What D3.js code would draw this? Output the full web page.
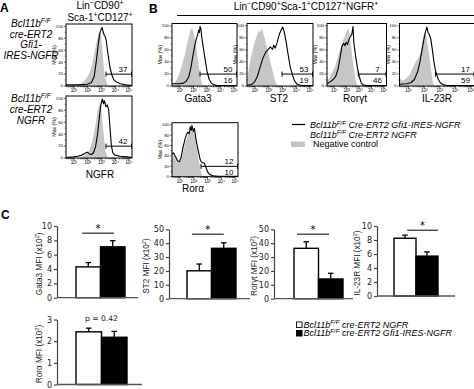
<!DOCTYPE html>
<html><head><meta charset="utf-8">
<script src="https://cdn.jsdelivr.net/npm/d3@7"></script>
<style>body{margin:0;background:#fff}svg{display:block}</style>
</head><body><svg id="c" width="474" height="389"></svg>
<script>
// ================= DATA =================
// Flow histograms: points are [log10 fluorescence, % of max]
const histLogTicks = [1, 2, 3, 4, 5];
const histPctTicks = [0, 20, 40, 60, 80, 100];
const histNames = ["", "NGFR", "Gata3", "ST2", "Rorγt", "IL-23R", "Rorα"];
const lineA1 = [[0.45,1],[1.5,1],[2.0,2],[2.3,5],[2.5,15],[2.65,40],[2.8,70],[2.92,88],[3.0,94],[3.08,97],[3.15,90],[3.22,85],[3.3,82],[3.38,75],[3.45,62],[3.55,45],[3.65,30],[3.78,18],[3.92,10],[4.1,6],[4.4,3],[4.8,1],[5.25,0]];
const fillA1 = [[0.45,0],[1.2,0],[1.5,3],[1.8,8],[2.1,18],[2.35,35],[2.55,58],[2.7,75],[2.82,88],[2.92,90],[3.0,82],[3.1,58],[3.2,30],[3.3,12],[3.45,2],[3.6,0],[5.25,0]];
const lineA2 = [[0.45,0],[1.0,1],[1.3,2],[1.6,4],[1.85,7],[2.0,9],[2.15,6],[2.3,5],[2.45,8],[2.6,18],[2.75,40],[2.9,72],[3.0,90],[3.1,98],[3.18,90],[3.25,95],[3.35,85],[3.45,88],[3.55,80],[3.65,50],[3.75,20],[3.85,8],[4.0,4],[4.4,2],[4.9,1],[5.25,0]];
const fillA2 = [[0.45,0],[1.5,0],[1.8,3],[2.1,10],[2.35,25],[2.55,48],[2.7,70],[2.82,85],[2.92,92],[3.0,85],[3.1,62],[3.2,35],[3.32,12],[3.45,2],[3.6,0],[5.25,0]];
const lineGata3 = [[0.45,3],[1.0,3],[1.3,4],[1.5,7],[1.7,15],[1.85,30],[2.0,50],[2.12,65],[2.25,78],[2.35,85],[2.42,92],[2.48,88],[2.52,98],[2.58,95],[2.65,80],[2.78,60],[2.92,40],[3.05,22],[3.2,10],[3.35,4],[3.55,1],[3.8,0],[5.25,0]];
const fillGata3 = [[0.45,0],[0.6,3],[0.8,10],[1.0,20],[1.2,35],[1.4,52],[1.55,68],[1.7,82],[1.82,92],[1.92,95],[2.05,88],[2.2,70],[2.35,45],[2.5,22],[2.62,6],[2.75,0],[5.25,0]];
const lineST2 = [[0.45,0],[0.8,2],[1.0,6],[1.2,15],[1.4,30],[1.6,45],[1.8,55],[2.0,60],[2.15,64],[2.3,60],[2.4,67],[2.5,62],[2.65,72],[2.8,85],[2.95,93],[3.05,97],[3.15,90],[3.3,72],[3.45,50],[3.6,30],[3.75,18],[3.9,8],[4.1,2],[4.4,0],[5.25,0]];
const fillST2 = [[0.45,10],[0.6,30],[0.75,48],[0.9,62],[1.05,75],[1.2,85],[1.32,92],[1.42,88],[1.52,96],[1.65,86],[1.8,72],[1.95,58],[2.1,45],[2.25,30],[2.4,15],[2.55,4],[2.7,0],[5.25,0]];
const lineRorgt = [[0.45,3],[0.7,6],[0.95,10],[1.15,15],[1.35,28],[1.5,45],[1.65,65],[1.8,70],[1.9,66],[2.0,72],[2.1,68],[2.2,75],[2.35,82],[2.45,85],[2.55,98],[2.62,70],[2.75,50],[2.9,30],[3.05,15],[3.2,5],[3.35,1],[3.6,0],[5.25,0]];
const fillRorgt = [[0.45,15],[0.6,10],[0.75,18],[0.95,25],[1.15,35],[1.35,50],[1.55,62],[1.75,75],[1.95,85],[2.1,92],[2.2,95],[2.3,80],[2.45,55],[2.6,30],[2.75,10],[2.9,0],[5.25,0]];
const lineIL23R = [[0.45,2],[0.9,3],[1.2,5],[1.4,10],[1.6,22],[1.75,38],[1.9,60],[2.0,75],[2.1,88],[2.2,97],[2.28,88],[2.35,85],[2.45,78],[2.55,60],[2.65,40],[2.75,25],[2.9,12],[3.05,5],[3.25,1],[3.5,0],[5.25,0]];
const fillIL23R = [[0.45,12],[0.7,8],[0.9,12],[1.1,18],[1.3,30],[1.5,40],[1.65,45],[1.8,55],[1.95,80],[2.05,88],[2.15,85],[2.3,60],[2.45,30],[2.55,10],[2.65,0],[5.25,0]];
const lineRora = [[0.45,42],[0.55,45],[0.7,38],[0.85,30],[1.0,28],[1.1,35],[1.25,55],[1.4,72],[1.5,80],[1.6,85],[1.7,82],[1.78,95],[1.85,88],[1.9,98],[2.0,86],[2.08,92],[2.2,70],[2.35,50],[2.5,32],[2.6,27],[2.8,25],[2.9,18],[3.05,8],[3.2,3],[3.45,1],[3.8,0],[5.25,0]];
const fillRora = [[0.45,38],[0.6,40],[0.75,32],[0.95,28],[1.1,30],[1.25,45],[1.4,62],[1.55,75],[1.7,82],[1.85,88],[1.95,90],[2.1,80],[2.25,55],[2.4,30],[2.55,10],[2.65,0],[5.25,0]];
const histLines = [lineA1, lineA2, lineGata3, lineST2, lineRorgt, lineIL23R, lineRora];
const histFills = [fillA1, fillA2, fillGata3, fillST2, fillRorgt, fillIL23R, fillRora];
const gateStartLog = [3.36, 3.36, 2.52, 3.0, 2.97, 2.75, 2.56];
const gateUpper = ["37", "42", "50", "53", "7", "17", "12"];
const gateLower = ["", "", "16", "19", "46", "59", "10"];

// Bar charts (MFI x10^2)
const barMarkers = ["Gata3", "ST2", "Rorγt", "IL-23R", "Rorα"];
const barGroups = ["NGFR", "Gfi1-IRES-NGFR"];
const meanNGFR = [4.3, 20.1, 36.3, 8.25, 2.43];
const semNGFR  = [0.6, 4.9, 4.7, 0.45, 0.17];
const meanGfi1 = [7.1, 36.3, 14.2, 5.7, 2.18];
const semGfi1  = [0.85, 4.0, 4.1, 0.6, 0.27];
const barYMax  = [10, 50, 50, 10, 3];
const barYStep = [2, 10, 10, 2, 1];
const sigLabels = ["*", "*", "*", "*", "p = 0.42"];

// ================= LAYOUT =================
const svg = d3.select("#c");
const SANS = "'Liberation Sans', Arial, 'DejaVu Sans', sans-serif";
const VER = "'DejaVu Sans', Verdana, sans-serif";
const logDomain = [0.45, 5.25];

function rich(sel, parts, fs) {
  parts.forEach(([t, sup], k) => {
    const ts = sel.append("tspan").text(t);
    if (sup) ts.attr("font-size", fs * 0.68).attr("dy", -fs * 0.38);
    else if (k > 0 && parts[k - 1][1]) ts.attr("dy", fs * 0.38);
  });
  return sel;
}
function txt(x, y, fs, opts = {}) {
  const t = svg.append("text").attr("x", x).attr("y", y)
    .attr("font-size", fs).attr("font-family", opts.font || SANS)
    .attr("text-anchor", opts.anchor || "start").attr("fill", "#000");
  if (opts.italic) t.attr("font-style", "italic");
  if (opts.bold) t.attr("font-weight", "bold");
  return t;
}

// Panel letters
txt(0, 12, 12, {bold: true}).text("A");
txt(149, 13, 12, {bold: true}).text("B");
txt(1, 219, 12, {bold: true}).text("C");

// Titles
rich(txt(100, 9, 10, {anchor: "middle"}), [["Lin"], ["−", 1], ["CD90"], ["+", 1]], 10);
rich(txt(100, 21, 10, {anchor: "middle"}), [["Sca-1"], ["+", 1], ["CD127"], ["+", 1]], 10);
rich(txt(306, 10, 10, {anchor: "middle"}), [["Lin"], ["−", 1], ["CD90"], ["+", 1], ["Sca-1"], ["+", 1], ["CD127"], ["+", 1], ["NGFR"], ["+", 1]], 10);
svg.append("line").attr("x1", 177).attr("x2", 474).attr("y1", 15.5).attr("y2", 15.5).attr("stroke", "#000").attr("stroke-width", 1);

// Panel A genotype labels
const aLab1 = [[["Bcl11b"], ["F/F", 1]], [["cre-ERT2"]], [["Gfi1-"]], [["IRES-NGFR"]]];
aLab1.forEach((p, k) => rich(txt(31, 27 + k * 10.5, 10, {anchor: "middle", italic: true}), p, 10));
const aLab2 = [[["Bcl11b"], ["F/F", 1]], [["cre-ERT2"]], [["NGFR"]]];
aLab2.forEach((p, k) => rich(txt(31, 102 + k * 11, 10, {anchor: "middle", italic: true}), p, 10));

// Histograms
const histLayout = [
  {x: 66, y: 24, w: 66, h: 62},
  {x: 66, y: 96, w: 66, h: 62, nx: 100, ny: 178},
  {x: 172, y: 23.5, w: 65, h: 62.5, nx: 198, ny: 102},
  {x: 247, y: 23.5, w: 66, h: 62.5, nx: 279, ny: 102},
  {x: 327, y: 23.5, w: 59.5, h: 62.5, nx: 355, ny: 102},
  {x: 399.5, y: 23.5, w: 75, h: 62.5, nx: 437, ny: 102},
  {x: 172, y: 122.7, w: 66, h: 54, nx: 193, ny: 192}
];
const supDigits = {1: "¹", 2: "²", 3: "³", 4: "⁴", 5: "⁵"};
histLayout.forEach((L, i) => {
  const g = svg.append("g");
  const x = d3.scaleLinear().domain(logDomain).range([L.x, L.x + L.w]);
  const y = d3.scaleLinear().domain([0, 103]).range([L.y + L.h - 0.5, L.y]);
  g.append("path").datum(histFills[i])
    .attr("d", d3.area().x(d => x(d[0])).y0(y(0)).y1(d => y(d[1])))
    .attr("fill", "#c6c6c6");
  g.append("path").datum(histLines[i])
    .attr("d", d3.line().x(d => x(d[0])).y(d => y(d[1])))
    .attr("fill", "none").attr("stroke", "#000").attr("stroke-width", 1.1).attr("stroke-linejoin", "round");
  g.append("rect").attr("x", L.x).attr("y", L.y).attr("width", L.w).attr("height", L.h)
    .attr("fill", "none").attr("stroke", "#000").attr("stroke-width", 1);
  const minor = [];
  for (let d = 0; d <= 5; d++) for (let m = 2; m <= 9; m++) {
    const v = d + Math.log10(m); if (v > logDomain[0] && v < logDomain[1]) minor.push(v);
  }
  const gx = g.append("g").attr("transform", `translate(0,${L.y + L.h})`);
  gx.call(d3.axisBottom(x).tickValues(minor).tickSize(1.3).tickFormat(""));
  gx.append("g").call(d3.axisBottom(x).tickValues(histLogTicks).tickSize(2.5).tickPadding(0.5)
    .tickFormat(d => "10" + supDigits[d]));
  gx.selectAll(".domain").remove();
  gx.selectAll("text").attr("font-size", 4.6).attr("font-family", SANS).attr("fill", "#000");
  gx.selectAll("line").attr("stroke", "#000").attr("stroke-width", 0.6);
  const gy = g.append("g").attr("transform", `translate(${L.x},0)`);
  gy.call(d3.axisLeft(y).tickValues([10, 30, 50, 70, 90]).tickSize(1.2).tickFormat(""));
  gy.append("g").call(d3.axisLeft(y).tickValues(histPctTicks).tickSize(2.2).tickPadding(0.8));
  gy.selectAll(".domain").remove();
  gy.selectAll("text").attr("font-size", 4.3).attr("font-family", SANS).attr("fill", "#000");
  gy.selectAll("line").attr("stroke", "#000").attr("stroke-width", 0.6);
  g.append("text").attr("transform", `translate(${L.x - 10},${L.y + L.h / 2}) rotate(-90)`)
    .attr("text-anchor", "middle").attr("font-size", 5.2).attr("font-family", SANS).text("Max (%)");
  const gy0 = y(19), gx0 = x(gateStartLog[i]), gx1 = L.x + L.w;
  g.append("line").attr("x1", gx0).attr("x2", gx1).attr("y1", gy0).attr("y2", gy0).attr("stroke", "#000").attr("stroke-width", 1);
  [gx0, gx1 - 0.5].forEach(px => g.append("line").attr("x1", px).attr("x2", px).attr("y1", gy0 - 2.5).attr("y2", gy0 + 2.5).attr("stroke", "#000").attr("stroke-width", 1));
  const nx = gx1 - 9;
  g.append("text").attr("x", nx).attr("y", gy0 - 2.5).attr("text-anchor", "middle").attr("font-size", 8).attr("font-family", SANS).text(gateUpper[i]);
  if (gateLower[i]) g.append("text").attr("x", nx).attr("y", gy0 + 8.8).attr("text-anchor", "middle").attr("font-size", 8).attr("font-family", SANS).text(gateLower[i]);
  if (histNames[i]) txt(L.nx, L.ny, 10, {anchor: "middle"}).text(histNames[i]);
});

// Legend B
svg.append("line").attr("x1", 292).attr("x2", 305).attr("y1", 124.5).attr("y2", 124.5).attr("stroke", "#000").attr("stroke-width", 1.2);
rich(txt(310, 128, 9, {italic: true}), [["Bcl11b"], ["F/F", 1], [" Cre-ERT2 Gfi1-IRES-NGFR"]], 9);
rich(txt(310, 137.5, 9, {italic: true}), [["Bcl11b"], ["F/F", 1], [" Cre-ERT2 NGFR"]], 9);
svg.append("rect").attr("x", 291).attr("y", 141.5).attr("width", 14).attr("height", 5.5).attr("fill", "#c6c6c6");
txt(313, 147, 9).text("Negative control");

// Bar charts
const barLayout = [
  {ax: 57, y0: 297.7, yTop: 226, bx: 76, bw: 24.5, xEnd: 138, lx: 42, sig: 0.9, s0: 0.25, s1: 0.55},
  {ax: 169, y0: 298.7, yTop: 229.3, bx: 187, bw: 24.5, xEnd: 250, lx: 149, sig: 0.93, s0: 0.2, s1: 0.5},
  {ax: 274, y0: 298.7, yTop: 229.3, bx: 294, bw: 24.5, xEnd: 353, lx: 257, sig: 0.93, s0: 0.12, s1: 0.43},
  {ax: 377, y0: 296, yTop: 226, bx: 394, bw: 22, xEnd: 455, lx: 360, sig: 0.94, s0: 0.6, s1: 1.0},
  {ax: 57, y0: 384.5, yTop: 319.5, bx: 76, bw: 25.5, xEnd: 142, lx: 42, sig: 0.97}
];
barLayout.forEach((L, i) => {
  const g = svg.append("g");
  const y = d3.scaleLinear().domain([0, barYMax[i]]).range([L.y0, L.yTop]);
  const x = d3.scaleBand().domain(barGroups).range([L.bx, L.bx + 2 * L.bw]).padding(0);
  const means = [meanNGFR[i], meanGfi1[i]], sems = [semNGFR[i], semGfi1[i]];
  barGroups.forEach((grp, k) => {
    const cx = x(grp) + x.bandwidth() / 2, top = y(means[k] + sems[k]);
    g.append("line").attr("x1", cx).attr("x2", cx).attr("y1", y(means[k])).attr("y2", top).attr("stroke", "#000").attr("stroke-width", 1.3);
    g.append("line").attr("x1", cx - 2.8).attr("x2", cx + 2.8).attr("y1", top).attr("y2", top).attr("stroke", "#000").attr("stroke-width", 1.3);
  });
  g.selectAll("rect.bar").data(barGroups).enter().append("rect")
    .attr("x", d => x(d)).attr("width", x.bandwidth())
    .attr("y", (d, k) => y(means[k])).attr("height", (d, k) => L.y0 - y(means[k]))
    .attr("fill", (d, k) => k ? "#000" : "#fff").attr("stroke", "#000").attr("stroke-width", 1.4);
  const ga = g.append("g").attr("transform", `translate(${L.ax},0)`)
    .call(d3.axisLeft(y).tickValues(d3.range(0, barYMax[i] + 1e-9, barYStep[i]))
      .tickFormat(d3.format("d")).tickSize(3).tickSizeOuter(0).tickPadding(2));
  ga.selectAll("text").attr("font-size", 8).attr("font-family", VER).attr("fill", "#222");
  ga.selectAll("line,.domain").attr("stroke", "#444").attr("stroke-width", 1.2);
  g.append("line").attr("x1", L.ax).attr("x2", L.xEnd).attr("y1", L.y0).attr("y2", L.y0).attr("stroke", "#555").attr("stroke-width", 1.3);
  g.append("text").attr("transform", `translate(${L.lx},${(L.y0 + L.yTop) / 2 + 2}) rotate(-90)`)
    .attr("text-anchor", "middle").attr("font-size", 8.2).attr("font-family", SANS).attr("fill", "#222")
    .call(s => rich(s, [[barMarkers[i] + " MFI (x10"], ["2", 1], [")"]], 8.2));
  const sy = y(barYMax[i] * L.sig);
  if (sigLabels[i] === "*") {
    const sx0 = x(barGroups[0]) + x.bandwidth() * L.s0, sx1 = x(barGroups[1]) + x.bandwidth() * L.s1;
    g.append("line").attr("x1", sx0).attr("x2", sx1).attr("y1", sy).attr("y2", sy).attr("stroke", "#000").attr("stroke-width", 1);
    g.append("text").attr("x", (sx0 + sx1) / 2).attr("y", sy - 1.5).attr("text-anchor", "middle").attr("font-size", 10).attr("font-family", VER).text("*");
  } else {
    g.append("text").attr("x", x(barGroups[1])).attr("y", sy).attr("text-anchor", "middle").attr("font-size", 7.6).attr("font-family", VER).attr("fill", "#222").text(sigLabels[i]);
  }
});

// Legend C
svg.append("rect").attr("x", 296.5).attr("y", 322).attr("width", 5.5).attr("height", 5.5).attr("fill", "#fff").attr("stroke", "#000").attr("stroke-width", 0.9);
rich(txt(303.5, 327.5, 9, {italic: true}), [["Bcl11b"], ["F/F", 1], [" cre-ERT2 NGFR"]], 9);
svg.append("rect").attr("x", 296).attr("y", 330).attr("width", 6.5).attr("height", 6.5).attr("fill", "#000");
rich(txt(303.5, 336, 9, {italic: true}), [["Bcl11b"], ["F/F", 1], [" cre-ERT2 Gfi1-IRES-NGFR"]], 9);
</script></body></html>
